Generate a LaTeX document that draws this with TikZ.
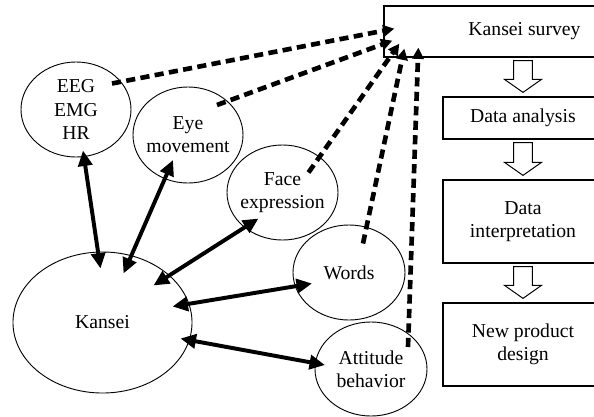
\documentclass[tikz,border=0pt]{standalone}
\usepackage{fontspec}
\setmainfont{Liberation Serif}
\usetikzlibrary{arrows.meta,positioning,calc,shapes.geometric}
\tikzset{
  oval/.style={draw,ellipse,line width=0.65pt,align=center,inner xsep=-4pt,inner ysep=0pt},
  fbox/.style={draw,rectangle,line width=0.9pt,align=center,inner sep=0pt},
  both/.style={{Triangle[length=11pt,width=10pt]}-{Triangle[length=11pt,width=10pt]},line width=2.8pt},
  dots/.style={-{Triangle[length=8pt,width=8pt]},line width=3.3pt,dash pattern=on 6.5pt off 3.8pt},
  hollow/.style={draw,fill=white,line width=0.7pt},
}

\begin{document}
\begin{tikzpicture}[x=0.025cm,y=-0.025cm,font=\fontsize{14}{16.5}\selectfont]
  \useasboundingbox (0,0) rectangle (594,416);
  % process chain on the right
  \node[fbox,minimum width=7.025cm,minimum height=1.275cm] (survey) at (524.5,31.5) {Kansei survey};
  \node[fbox,minimum width=4cm,minimum height=1.05cm] (analysis) at (523,118) {Data analysis};
  \node[fbox,minimum width=4cm,minimum height=2.075cm] (interp) at (523,221.5) {Data\\interpretation};
  \node[fbox,minimum width=4cm,minimum height=2.075cm] (design) at (523,344.5) {New product\\design};
  \foreach \a/\b in {survey/analysis,analysis/interp,interp/design}{
    \draw[hollow] let \p1=($(\a.south)+(0,3)$), \p2=($(\b.north)+(0,-4)$) in
      (\x2-6.7pt,\y1) -- (\x2+6.7pt,\y1) -- (\x2+6.7pt,\y2+9.2pt) -- (\x2+13.1pt,\y2+9.2pt)
      -- (\x2,\y2) -- (\x2-13.1pt,\y2+9.2pt) -- (\x2-6.7pt,\y2+9.2pt) -- cycle;}
  % measured signals
  \node[oval,minimum width=2.75cm,minimum height=2.375cm] (eeg) at (76,109.5) {EEG\\EMG\\HR};
  \node[oval,minimum width=2.75cm,minimum height=2.4cm] (eye) at (188,135) {Eye\\movement};
  \node[oval,minimum width=2.775cm,minimum height=2.375cm] (face) at (282.5,192.5) {Face\\expression};
  \node[oval,minimum width=2.8cm,minimum height=2.375cm] (words) at (349,272.5) {Words};
  \node[oval,minimum width=2.8cm,minimum height=2.35cm] (att) at (371,369) {Attitude\\behavior};
  \node[oval,minimum width=4.475cm,minimum height=3.525cm] (kansei) at (102.5,322.5) {Kansei};
  % links to kansei
  \draw[both] ($(eeg.center)+(7,41)$) -- ($(kansei.center)+(-2,-54)$);
  \draw[both] ($(eye.center)+(-15,25)$) -- ($(kansei.center)+(21,-49)$);
  \draw[both] ($(face.center)+(-24,26)$) -- ($(kansei.center)+(51,-37)$);
  \draw[both] ($(words.center)+(-37,11)$) -- ($(kansei.center)+(70,-16)$);
  \draw[both] ($(att.center)+(-46,-4)$) -- ($(kansei.center)+(78,16)$);
  % feeds into the survey
  \draw[dots] ($(eeg.center)+(36,-26)$) -- ($(survey.south west)+(11,-29)$);
  \draw[dots] ($(eye.center)+(29,-30)$) -- ($(survey.south west)+(9,-17)$);
  \draw[dots] ($(face.center)+(26,-20)$) -- ($(survey.south west)+(16,-14)$);
  \draw[dots] ($(words.center)+(14,-29)$) -- ($(survey.south west)+(21,-9)$);
  \draw[dots] ($(att.center)+(37,-22)$) -- ($(survey.south west)+(35,-10)$);
\end{tikzpicture}
\end{document}
